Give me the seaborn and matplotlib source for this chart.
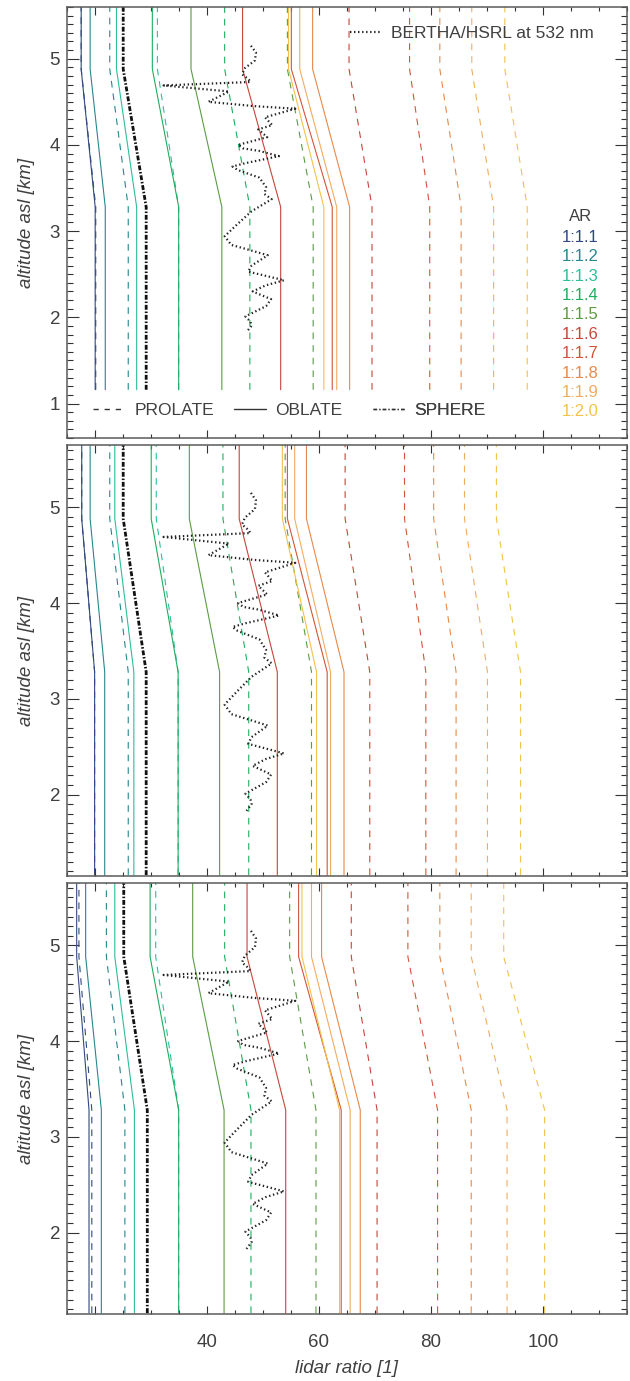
import numpy as np
import pandas as pd
import matplotlib
matplotlib.use("Agg")
import matplotlib.pyplot as plt
from matplotlib.lines import Line2D
from matplotlib.ticker import MultipleLocator, FixedLocator
import seaborn as sns

# ---------------- data ----------------
ar_labels = ["1:1.1", "1:1.2", "1:1.3", "1:1.4", "1:1.5",
             "1:1.6", "1:1.7", "1:1.8", "1:1.9", "1:2.0"]
ar_colors = ["#31497f", "#27868f", "#2cbf9a", "#1fae5e", "#5c9b46",
             "#c6463c", "#d2553a", "#e58a4c", "#f0ad62", "#f2c24a"]

# altitude knots of the model profiles [km]
profile_alt = [1.16, 3.28, 4.88, 5.70]

# panel 1
p1_pro_low = [20.2, 26.0, 35.0, 47.7, 59.0, 69.5, 79.8, 85.4, 91.2, 97.2]
p1_pro_high = [17.6, 22.7, 31.2, 43.2, 54.4, 65.4, 76.2, 81.6, 87.3, 93.2]
p1_obl_low = [20.1, 21.9, 27.5, 35.0, 42.7, 53.2, 62.4, 65.5, 63.2, 60.9]
p1_obl_high = [17.6, 19.2, 23.9, 30.3, 37.2, 46.4, 55.1, 58.9, 56.6, 54.6]
p1_sphere = [29.2, 25.1]

# panel 2
p2_pro_low = [20.0, 26.0, 34.9, 47.5, 58.7, 69.1, 79.1, 84.5, 90.1, 96.0]
p2_pro_high = [17.7, 22.7, 31.0, 42.9, 54.0, 64.7, 75.3, 80.5, 86.0, 91.7]
p2_obl_low = [20.0, 21.8, 27.0, 34.9, 42.3, 52.6, 61.5, 64.5, 62.1, 59.6]
p2_obl_high = [17.7, 19.2, 23.6, 30.1, 36.9, 45.8, 54.4, 57.8, 55.7, 53.5]
p2_sphere = [29.2, 25.1]

# panel 3
p3_pro_low = [19.5, 25.4, 35.0, 47.9, 59.5, 70.4, 81.2, 87.2, 93.6, 100.3]
p3_pro_high = [17.2, 22.1, 30.9, 43.2, 54.8, 65.8, 75.9, 81.6, 87.2, 93.0]
p3_obl_low = [19.0, 21.2, 27.1, 35.0, 43.1, 54.1, 64.0, 67.4, 65.6, 63.7]
p3_obl_high = [16.8, 18.4, 23.6, 29.9, 37.5, 47.2, 56.4, 60.5, 58.7, 57.0]
p3_sphere = [29.4, 25.2]

# BERTHA / HSRL measured profile
bertha_alt = [5.15, 5.07, 4.98, 4.89, 4.82, 4.76, 4.73, 4.69, 4.62, 4.50,
              4.45, 4.42, 4.32, 4.23, 4.18, 4.09, 4.00, 3.96, 3.93, 3.87,
              3.83, 3.79, 3.75, 3.71, 3.62, 3.51, 3.43, 3.37, 3.23, 3.07,
              2.94, 2.84, 2.78, 2.72, 2.60, 2.53, 2.43, 2.37, 2.30, 2.21,
              2.13, 2.01, 1.95, 1.90, 1.83]
bertha_lr = [47.9, 48.8, 48.6, 46.8, 46.3, 47.5, 47.8, 32.3, 44.0, 40.3,
             48.5, 55.8, 50.4, 51.7, 49.2, 50.8, 45.6, 46.5, 49.4, 52.9,
             50.0, 47.0, 44.6, 45.5, 49.4, 50.6, 50.3, 51.6, 48.0, 45.3,
             43.2, 44.4, 47.7, 50.9, 48.0, 47.4, 53.8, 50.5, 48.2, 51.5,
             50.6, 46.9, 47.8, 48.0, 47.1]

x_major_ticks = [20, 40, 60, 80, 100]
x_tick_labels = ["", "40", "60", "80", "100"]
shape_names = ["PROLATE", "OBLATE", "SPHERE"]

panels = [
    (p1_pro_low, p1_pro_high, p1_obl_low, p1_obl_high, p1_sphere, (0.6, 5.6)),
    (p2_pro_low, p2_pro_high, p2_obl_low, p2_obl_high, p2_sphere, (1.15, 5.65)),
    (p3_pro_low, p3_pro_high, p3_obl_low, p3_obl_high, p3_sphere, (1.15, 5.65)),
]


def panel_frame(pro_low, pro_high, obl_low, obl_high, sphere):
    rows = []
    for lab, pl, ph, ol, oh in zip(ar_labels, pro_low, pro_high, obl_low, obl_high):
        for shape, lo, hi in (("prolate", pl, ph), ("oblate", ol, oh)):
            for a, v in zip(profile_alt, [lo, lo, hi, hi]):
                rows.append(dict(ar=lab, shape=shape, alt=a, lr=v))
    for a, v in zip(profile_alt, [sphere[0], sphere[0], sphere[1], sphere[1]]):
        rows.append(dict(ar="sphere", shape="sphere", alt=a, lr=v))
    return pd.DataFrame(rows)


# ---------------- style ----------------
sns.set_theme(style="ticks")
plt.rcParams["font.family"] = ["Liberation Sans", "DejaVu Sans"]
plt.rcParams["lines.scale_dashes"] = False
txt_col = "#404040"
dot_style = (0, (1.0, 1.9))

palette = dict(zip(ar_labels, ar_colors))
palette["sphere"] = "#111111"
dash_map = {"prolate": (4.8, 4.3), "oblate": "", "sphere": (3.5, 1.3, 1.1, 1.3)}
size_map = {"prolate": 0.8, "oblate": 0.8, "sphere": 2.0}

fig = plt.figure(figsize=(6.3, 13.81), dpi=100)
W, H = 630.0, 1381.0
left_px, right_px = 66.6, 627.0
tops = [7.0, 445.0, 883.0]
ph = 431.0
axes = []
for t in tops:
    axes.append(fig.add_axes([left_px / W, 1 - (t + ph) / H,
                              (right_px - left_px) / W, ph / H]))

for i, (ax, (pl, phh, ol, oh, sph, ylim)) in enumerate(zip(axes, panels)):
    df = panel_frame(pl, phh, ol, oh, sph)
    sns.lineplot(data=df, x="lr", y="alt", hue="ar", style="shape", size="shape",
                 palette=palette, dashes=dash_map, sizes=size_map,
                 estimator=None, sort=False, legend=False, ax=ax)
    sns.lineplot(x=bertha_lr, y=bertha_alt, sort=False, estimator=None,
                 color="#222222", lw=1.6, linestyle=dot_style,
                 ax=ax, zorder=5)

    ax.set_xlim(15, 115)
    ax.set_ylim(*ylim)
    ax.xaxis.set_major_locator(FixedLocator(x_major_ticks))
    ax.xaxis.set_minor_locator(MultipleLocator(5))
    ax.yaxis.set_major_locator(MultipleLocator(1))
    ax.yaxis.set_minor_locator(MultipleLocator(0.1))
    ax.tick_params(axis="both", which="both", direction="in", top=True,
                   right=True, color="#333333", width=0.8,
                   labelsize=13.5, labelcolor=txt_col)
    ax.tick_params(axis="x", which="major", length=6, pad=14.5)
    ax.tick_params(axis="x", which="minor", length=3)
    ax.tick_params(axis="y", which="major", length=8.5, pad=4.7)
    ax.tick_params(axis="y", which="minor", length=4.3)
    if i < 2:
        ax.tick_params(axis="x", labelbottom=False)
        ax.set_xlabel("")
    else:
        ax.set_xticklabels(x_tick_labels)
        ax.set_xlabel("lidar ratio [1]", fontsize=13.5, fontstyle="italic",
                      color=txt_col)
        ax.xaxis.set_label_coords(0.4995, -0.1276)
        ax.xaxis.label.set_va("center")
    ax.set_ylabel("altitude asl [km]", fontsize=13.5, fontstyle="italic",
                  color=txt_col)
    ax.yaxis.set_label_coords(-0.0707, 0.5)
    ax.yaxis.label.set_va("center")
    for s in ax.spines.values():
        s.set_color("#5a5a5a")
        s.set_linewidth(1.1)

# ---------------- legends (top panel) ----------------
ax0 = axes[0]
leg_kw = dict(frameon=False, fontsize=12.5, handlelength=1.82,
              handletextpad=0.55, borderpad=0, borderaxespad=0,
              labelcolor=txt_col, loc="center left")

h_bertha = Line2D([], [], color="#222222", lw=1.6, linestyle=dot_style)
lg = ax0.legend([h_bertha], ["BERTHA/HSRL at 532 nm"],
                bbox_to_anchor=(0.5057, 0.939), **leg_kw)
ax0.add_artist(lg)

shape_handles = [
    Line2D([], [], color="#333333", lw=1.0, linestyle=(0, (3.8, 4.2))),
    Line2D([], [], color="#333333", lw=1.0),
    Line2D([], [], color="#333333", lw=1.0, linestyle=(0, (2.6, 1.6, 0.8, 1.6))),
]
shape_x = [0.0476, 0.2987, 0.5473]
for hnd, name, xx in zip(shape_handles, shape_names, shape_x):
    lg = ax0.legend([hnd], [name], bbox_to_anchor=(xx, 0.0633), **leg_kw)
    ax0.add_artist(lg)

ax0.text(0.917, 0.5037, "AR", color=txt_col, fontsize=12, ha="center",
         va="baseline", transform=ax0.transAxes)
for k, (lab, col) in enumerate(zip(ar_labels, ar_colors)):
    ax0.text(0.917, 0.455 - k * 0.0450, lab, color=col, fontsize=12,
             ha="center", va="baseline", transform=ax0.transAxes)

fig.savefig("out.png", dpi=100)
